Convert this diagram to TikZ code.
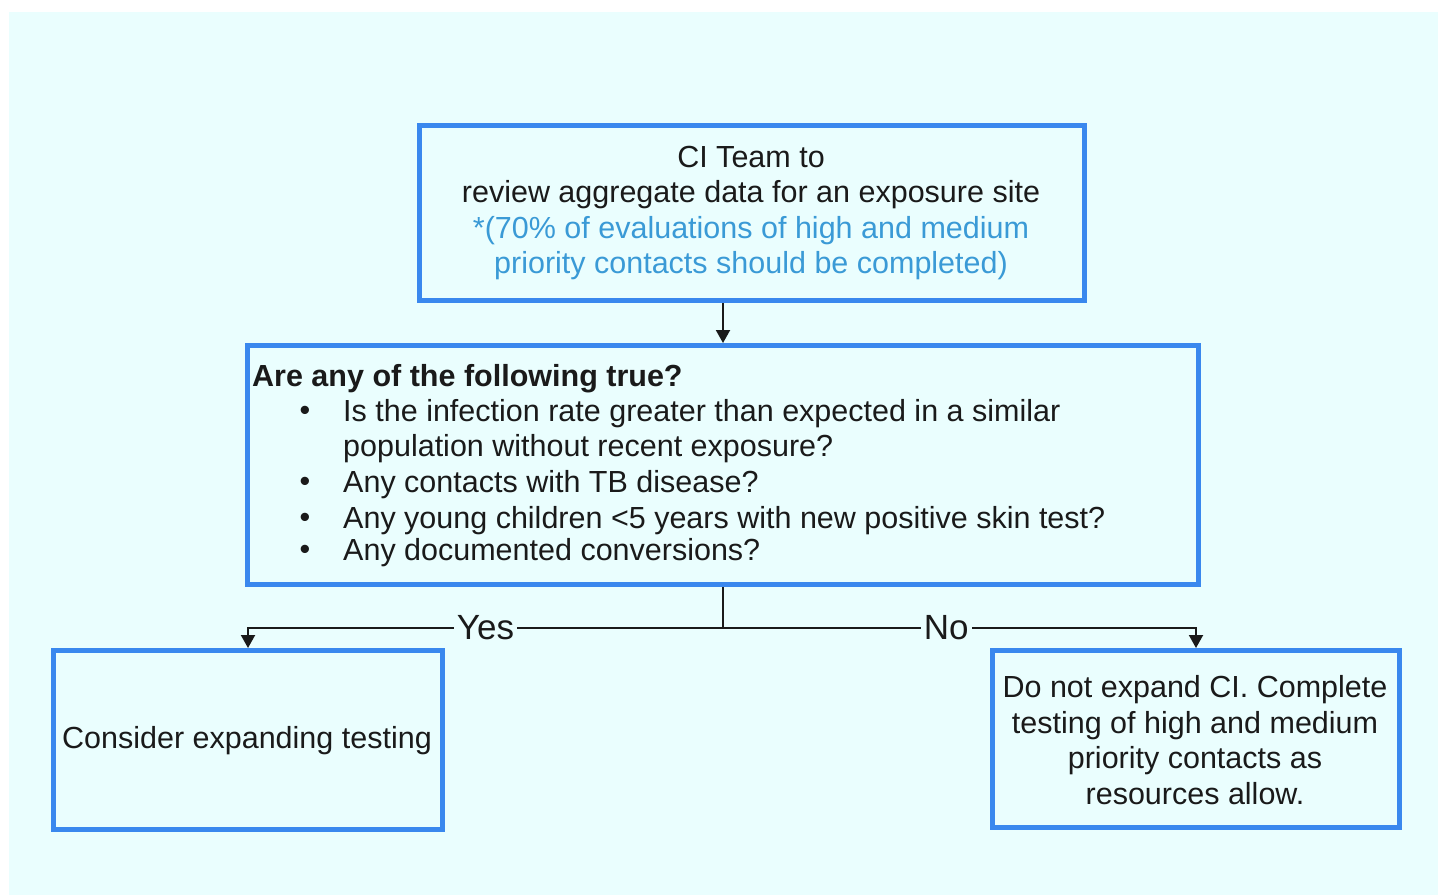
\documentclass[tikz,border=0pt]{standalone}
\usepackage{fontspec}
\setmainfont{Liberation Sans}
\usetikzlibrary{arrows.meta}
\definecolor{pagebg}{HTML}{EAFEFE}
\definecolor{boxblue}{HTML}{3A88EE}
\definecolor{notecol}{HTML}{3A9AD6}
\definecolor{inkcol}{HTML}{1A1A1A}
\tikzset{
  flowbox/.style={draw=boxblue, line width=5pt, rectangle, inner sep=0pt},
  txt/.style={inner sep=0pt, text=inkcol, font=\fontsize{30.5}{35.5}\selectfont},
  link/.style={draw=inkcol, line width=2pt, -{Triangle[width=14pt,length=13pt]}},
  branch/.style={draw=inkcol, line width=2pt},
  answer/.style={fill=pagebg, inner sep=3pt, text=inkcol, font=\fontsize{35}{40}\selectfont}
}
\begin{document}
\begin{tikzpicture}[x=1pt,y=-1pt]
  \useasboundingbox (0,0) rectangle (1438,895);
  \fill[white] (0,0) rectangle (1438,895);
  \fill[pagebg] (9,12) rectangle (1438,895);

  % boxes
  \node[flowbox, minimum width=665pt, minimum height=175pt] (review) at (752,213) {};
  \node[flowbox, minimum width=951pt, minimum height=239pt] (check) at (723,465) {};
  \node[flowbox, minimum width=389pt, minimum height=179pt] (expand) at (248,740) {};
  \node[flowbox, minimum width=407pt, minimum height=177pt] (noexpand) at (1196,739) {};

  % top box text
  \node[txt, align=center, anchor=center] (reviewtxt) at (751,213)
    {CI Team to\\review aggregate data for an exposure site\\
     \textcolor{notecol}{*(70\% of evaluations of high and medium}\\
     \textcolor{notecol}{priority contacts should be completed)}};

  % question box text
  \node[txt, anchor=west] (q0) at (252,378.5) {\bfseries Are any of the following true?};
  \node[txt] (b1) at (305,413.5) {•};
  \node[txt, anchor=west] (q1) at (343,413.5) {Is the infection rate greater than expected in a similar};
  \node[txt, anchor=west] (q1b) at (343,448.5) {population without recent exposure?};
  \node[txt] (b2) at (305,484.5) {•};
  \node[txt, anchor=west] (q2) at (343,484.5) {Any contacts with TB disease?};
  \node[txt] (b3) at (305,520.5) {•};
  \node[txt, anchor=west] (q3) at (343,520.5) {Any young children <5 years with new positive skin test?};
  \node[txt] (b4) at (305,552.5) {•};
  \node[txt, anchor=west] (q4) at (343,552.5) {Any documented conversions?};

  % outcome texts
  \node[txt, anchor=center] (expandtxt) at (247,741) {Consider expanding testing};
  \node[txt, align=center, anchor=center] (noexpandtxt) at (1195,740)
    {Do not expand CI. Complete\\testing of high and medium\\priority contacts as\\resources allow.};

  % connectors
  \draw[link] (check.north |- review.south) -- (check.north);
  \coordinate (split) at (723,628);
  \draw[branch] (check.south) -- (split);
  \draw[link] (split) -| node[answer, pos=0.25] (yes) {Yes} (expand.north);
  \draw[link] (split) -| node[answer, pos=0.236] (no) {No} (noexpand.north);
\end{tikzpicture}
\end{document}
